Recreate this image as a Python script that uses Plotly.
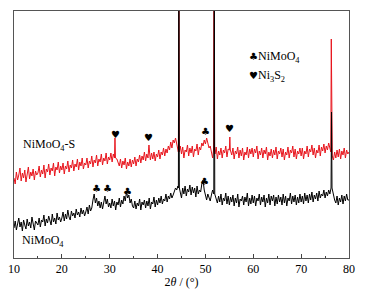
import numpy as np
import plotly.graph_objects as go

# 2θ grid of the background traces (0.25° step, 10..80)
theta_start, theta_step = 10.0, 0.25

# NiMoO4 (black) background (arbitrary intensity units)
black_bg = [
    30, 37, 28, 35, 40, 31, 36, 27, 38, 33, 29, 39, 32, 36, 30, 41, 34, 28, 37, 35,
    33, 40, 31, 38, 36, 43, 32, 39, 35, 42, 37, 33, 44, 36, 40, 34, 45, 38, 41, 36,
    40, 46, 37, 44, 39, 48, 41, 38, 47, 42, 45, 40, 49, 43, 46, 41, 50, 44, 48, 42,
    46, 51, 44, 53, 47, 50, 58, 64, 55, 60, 52, 57, 50, 56, 49, 58, 62, 54, 59, 51,
    55, 50, 59, 52, 57, 48, 56, 53, 60, 51, 58, 54, 62, 57, 66, 60, 63, 55, 59, 52,
    50, 57, 49, 55, 52, 59, 48, 56, 53, 58, 50, 57, 52, 60, 49, 56, 54, 61, 51, 58,
    53, 60, 55, 62, 54, 59, 57, 64, 56, 62, 59, 65, 60, 63, 66, 70, 68, 72, 70, 66,
    60, 70, 64, 72, 62, 69, 66, 73, 63, 71, 65, 70, 61, 72, 64, 68, 66, 74, 78, 68,
    62, 58, 64, 60, 57, 63, 68, 64, 70, 60, 55, 62, 56, 64, 53, 60, 57, 65, 54, 62,
    53, 61, 56, 63, 52, 60, 55, 64, 51, 59, 57, 62, 53, 61, 56, 65, 52, 60, 54, 63,
    55, 62, 52, 60, 57, 64, 53, 61, 56, 63, 51, 60, 55, 64, 53, 62, 57, 63, 52, 61,
    54, 63, 56, 61, 53, 64, 55, 62, 52, 60, 57, 65, 54, 62, 56, 63, 53, 61, 55, 64,
    56, 62, 54, 65, 57, 63, 55, 64, 58, 66, 56, 63, 59, 65, 57, 67, 60, 64, 62, 68,
    60, 66, 62, 68, 64, 70, 66, 62, 58, 55, 62, 53, 60, 56, 63, 54, 62, 57, 64, 58,
    58,
]
black_peak_pos = [44.45, 51.85, 76.35]
black_peak_h = [300, 300, 146]

# NiMoO4-S (red) background
red_bg = [
    80, 74, 86, 78, 83, 90, 77, 85, 80, 88, 76, 84, 91, 79, 86, 82, 89, 78, 87, 83,
    85, 92, 81, 88, 84, 93, 80, 89, 86, 94, 83, 90, 87, 95, 82, 91, 88, 96, 85, 92,
    88, 95, 84, 92, 89, 97, 86, 93, 90, 98, 87, 94, 91, 99, 88, 96, 92, 100, 89, 95,
    93, 100, 90, 97, 94, 102, 91, 98, 95, 103, 92, 99, 96, 104, 93, 100, 97, 105, 94, 101,
    98, 105, 96, 104, 100, 108, 99, 95, 92, 99, 90, 97, 93, 100, 89, 96, 92, 99, 91, 98,
    94, 101, 92, 99, 96, 103, 95, 102, 98, 106, 97, 104, 100, 107, 98, 105, 99, 106, 97, 104,
    101, 108, 99, 106, 103, 110, 102, 109, 105, 112, 108, 116, 110, 118, 115, 120, 114, 110, 106, 112,
    104, 111, 100, 108, 106, 113, 102, 110, 105, 112, 101, 109, 107, 114, 103, 111, 108, 115, 112, 118,
    114, 120, 116, 110, 112, 106, 100, 108, 104, 111, 99, 107, 103, 110, 100, 108, 105, 112, 101, 109,
    108, 114, 103, 110, 99, 107, 104, 111, 100, 108, 102, 110, 98, 106, 103, 111, 100, 109, 104, 110,
    101, 109, 105, 112, 99, 107, 103, 110, 100, 108, 104, 111, 98, 106, 102, 109, 100, 108, 103, 111,
    99, 107, 104, 110, 101, 109, 98, 106, 103, 111, 100, 108, 105, 112, 101, 109, 99, 107, 104, 110,
    102, 110, 99, 107, 104, 112, 101, 109, 106, 113, 103, 110, 100, 108, 105, 113, 102, 111, 107, 114,
    105, 112, 108, 115, 110, 106, 102, 98, 106, 100, 108, 101, 109, 99, 107, 103, 110, 100, 108, 104,
    106,
]
red_peak_pos = [31.1, 38.2, 44.45, 51.8, 55.1, 76.3]
red_peak_h = [120, 113, 300, 300, 121, 219]

# phase markers
club_black_x = [27.3, 29.6, 33.8, 49.9]
club_black_y = [70, 70, 67, 77]
club_red_x = [50.1]
club_red_y = [127]
heart_red_x = [31.3, 38.0, 55.1]
heart_red_y = [124, 121, 130]

x_ticks = [10, 20, 30, 40, 50, 60, 70, 80]


def build(bg, ppos, ph):
    xs = theta_start + theta_step * np.arange(len(bg))
    pts = [(x, y) for x, y in zip(xs, bg)
           if all(abs(x - p) > 0.18 for p in ppos)]
    for p, h in zip(ppos, ph):
        i = int(np.argmin(np.abs(xs - p)))
        base = bg[i]
        pts += [(p - 0.1, base), (p, h), (p + 0.1, base)]
    pts.sort()
    return [a for a, _ in pts], [b for _, b in pts]


bx, by = build(black_bg, black_peak_pos, black_peak_h)
rx, ry = build(red_bg, red_peak_pos, red_peak_h)

fig = go.Figure()
fig.add_trace(go.Scatter(x=rx, y=ry, mode="lines",
                         line=dict(color="#e8141c", width=1), showlegend=False))
fig.add_trace(go.Scatter(x=bx, y=by, mode="lines",
                         line=dict(color="#000000", width=1), showlegend=False))

font = dict(family="Liberation Serif, Times New Roman, serif", size=12, color="black")
sym_font = dict(family="DejaVu Sans", size=10, color="black")

ann = []
for x, y in zip(club_black_x + club_red_x, club_black_y + club_red_y):
    ann.append(dict(x=x, y=y, text="♣", showarrow=False, font=sym_font))
for x, y in zip(heart_red_x, heart_red_y):
    ann.append(dict(x=x, y=y, text="♥", showarrow=False, font=sym_font))

ann.append(dict(x=11.4, y=113, text="NiMoO<sub>4</sub>-S", showarrow=False,
                xanchor="left", yanchor="middle", font=font))
ann.append(dict(x=11.2, y=17, text="NiMoO<sub>4</sub>", showarrow=False,
                xanchor="left", yanchor="middle", font=font))
ann.append(dict(x=58.7, y=201, text="<span style='font-family:DejaVu Sans;font-size:10px'>♣</span>NiMoO<sub>4</sub>",
                showarrow=False, xanchor="left", yanchor="middle", font=font))
ann.append(dict(x=58.7, y=182, text="<span style='font-family:DejaVu Sans;font-size:10px'>♥</span>Ni<sub>3</sub>S<sub>2</sub>",
                showarrow=False, xanchor="left", yanchor="middle", font=font))

fig.update_layout(
    width=365, height=291,
    margin=dict(l=14, r=16, t=11, b=33),
    paper_bgcolor="white", plot_bgcolor="white",
    annotations=ann,
    xaxis=dict(range=[10, 80], tickvals=x_ticks, ticks="inside", ticklen=4,
               tickcolor="#444", showline=True, linecolor="#555", linewidth=1,
               mirror=True, showgrid=False, zeroline=False, automargin=False,
               tickfont=font,
               minor=dict(dtick=5, ticks="inside", ticklen=2, tickcolor="#444"),
               title=dict(text="2<i>θ</i> / (°)", font=font, standoff=2)),
    yaxis=dict(range=[0, 247], showticklabels=False, ticks="", showline=True,
               linecolor="#555", linewidth=1, mirror=True, showgrid=False,
               zeroline=False, automargin=False),
)

fig.write_html("out.html", config={"displayModeBar": False},
               post_script="document.body.style.margin='0';document.body.style.overflow='hidden';")
